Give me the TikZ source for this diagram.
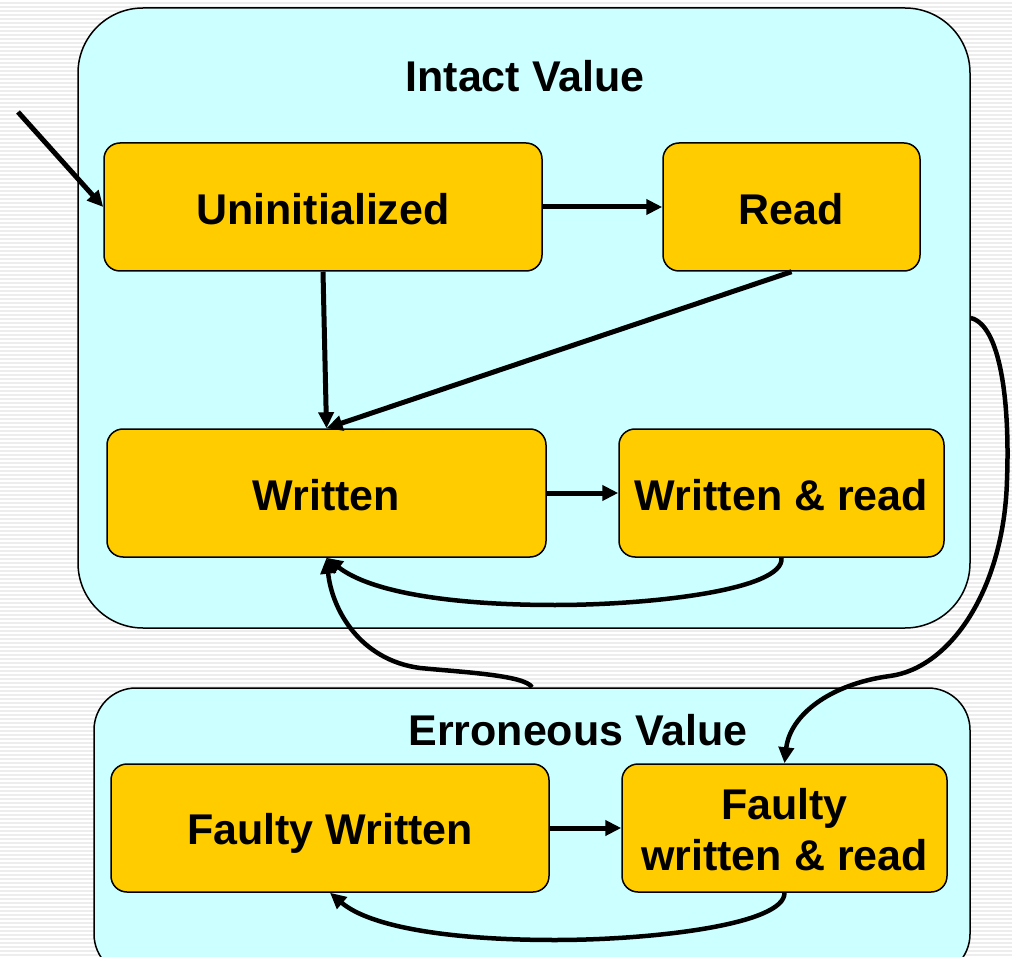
\documentclass[tikz,border=0pt]{standalone}
\usepackage{fontspec}
\setmainfont{Liberation Sans}
\usetikzlibrary{arrows.meta}
\definecolor{bgray}{HTML}{EDEDED}
\definecolor{cyanfill}{HTML}{CCFFFF}
\definecolor{orangefill}{HTML}{FFCC00}
\newcommand{\lowr}[2]{\raisebox{-#1}[\height][\depth]{#2}}
\tikzset{
  group/.style={draw=black, line width=1.5pt, fill=cyanfill, inner sep=0pt},
  state/.style={draw=black, line width=1.5pt, fill=orangefill, rounded corners=16pt,
    minimum width=#1, minimum height=128pt, inner sep=0pt, align=center,
    font=\fontsize{43}{50}\selectfont\bfseries},
  title/.style={inner sep=0pt, font=\fontsize{43}{50}\selectfont\bfseries},
  arr/.style={line width=5pt, -{Triangle[length=16pt,width=15pt]}},
  carr/.style={line width=4.5pt, -{Triangle[length=16pt,width=15pt]}},
}
\begin{document}
\begin{tikzpicture}[x=1pt,y=-1pt]
\useasboundingbox (0,0) rectangle (1012,957);
\fill[bgray] (0,0) rectangle (1012,957);
\foreach \yy in {1,5,...,957} \draw[white, line width=2pt] (0,\yy) -- (1012,\yy);

% groups
\node[group, rounded corners=65pt, minimum width=892pt, minimum height=620pt] (intact) at (524,318) {};
\node[group, rounded corners=42pt, minimum width=876pt, minimum height=288pt] (err) at (532,832) {};
\node[title] (intactlbl) at (525,76) {Intact Value};
\node[title] (errlbl) at (578,730) {Erroneous Value};

% states
\node[state=438pt] (uninit) at (323,207) {\lowr{2pt}{Uninitialized}};
\node[state=257pt] (read) at (791.5,207) {\lowr{2pt}{Read}};
\node[state=439pt] (written) at (326.5,493) {\lowr{2pt}{Written}};
\node[state=325pt] (wr) at (781.5,493) {\lowr{2pt}{Written \& read}};
\node[state=438pt] (fw) at (330,828) {\lowr{5pt}{Faulty Written}};
\node[state=325pt] (fwr) at (784.5,828) {\lowr{2pt}{Faulty}\\[1pt]\lowr{2pt}{written \& read}};

% connectors
\coordinate (init) at (18,112);
\draw[arr] (init) -- (uninit.west);
\draw[arr] (uninit.east) -- (read.west);
\draw[arr] (uninit.south) -- (written.north);
\draw[arr] (read.south) -- (written.north);
\draw[arr] (written.east) -- (wr.west);
\draw[carr] (wr.south) .. controls (785,590) and (650,605) .. (555,605)
  .. controls (450,605) and (370,592) .. (written.south);
\draw[carr] (err.north) .. controls (525,675) and (460,672) .. (420,668)
  .. controls (360,660) and (332,610) .. (written.south);
\draw[carr] (intact.east) .. controls (1000,325) and (1010,400) .. (1007,480)
  .. controls (1004,590) and (950,668) .. (890,676)
  .. controls (830,684) and (790,715) .. (fwr.north);
\draw[arr] (fw.east) -- (fwr.west);
\draw[carr] (fwr.south) .. controls (785,925) and (650,940) .. (555,940)
  .. controls (450,940) and (370,927) .. (fw.south);
\end{tikzpicture}
\end{document}
